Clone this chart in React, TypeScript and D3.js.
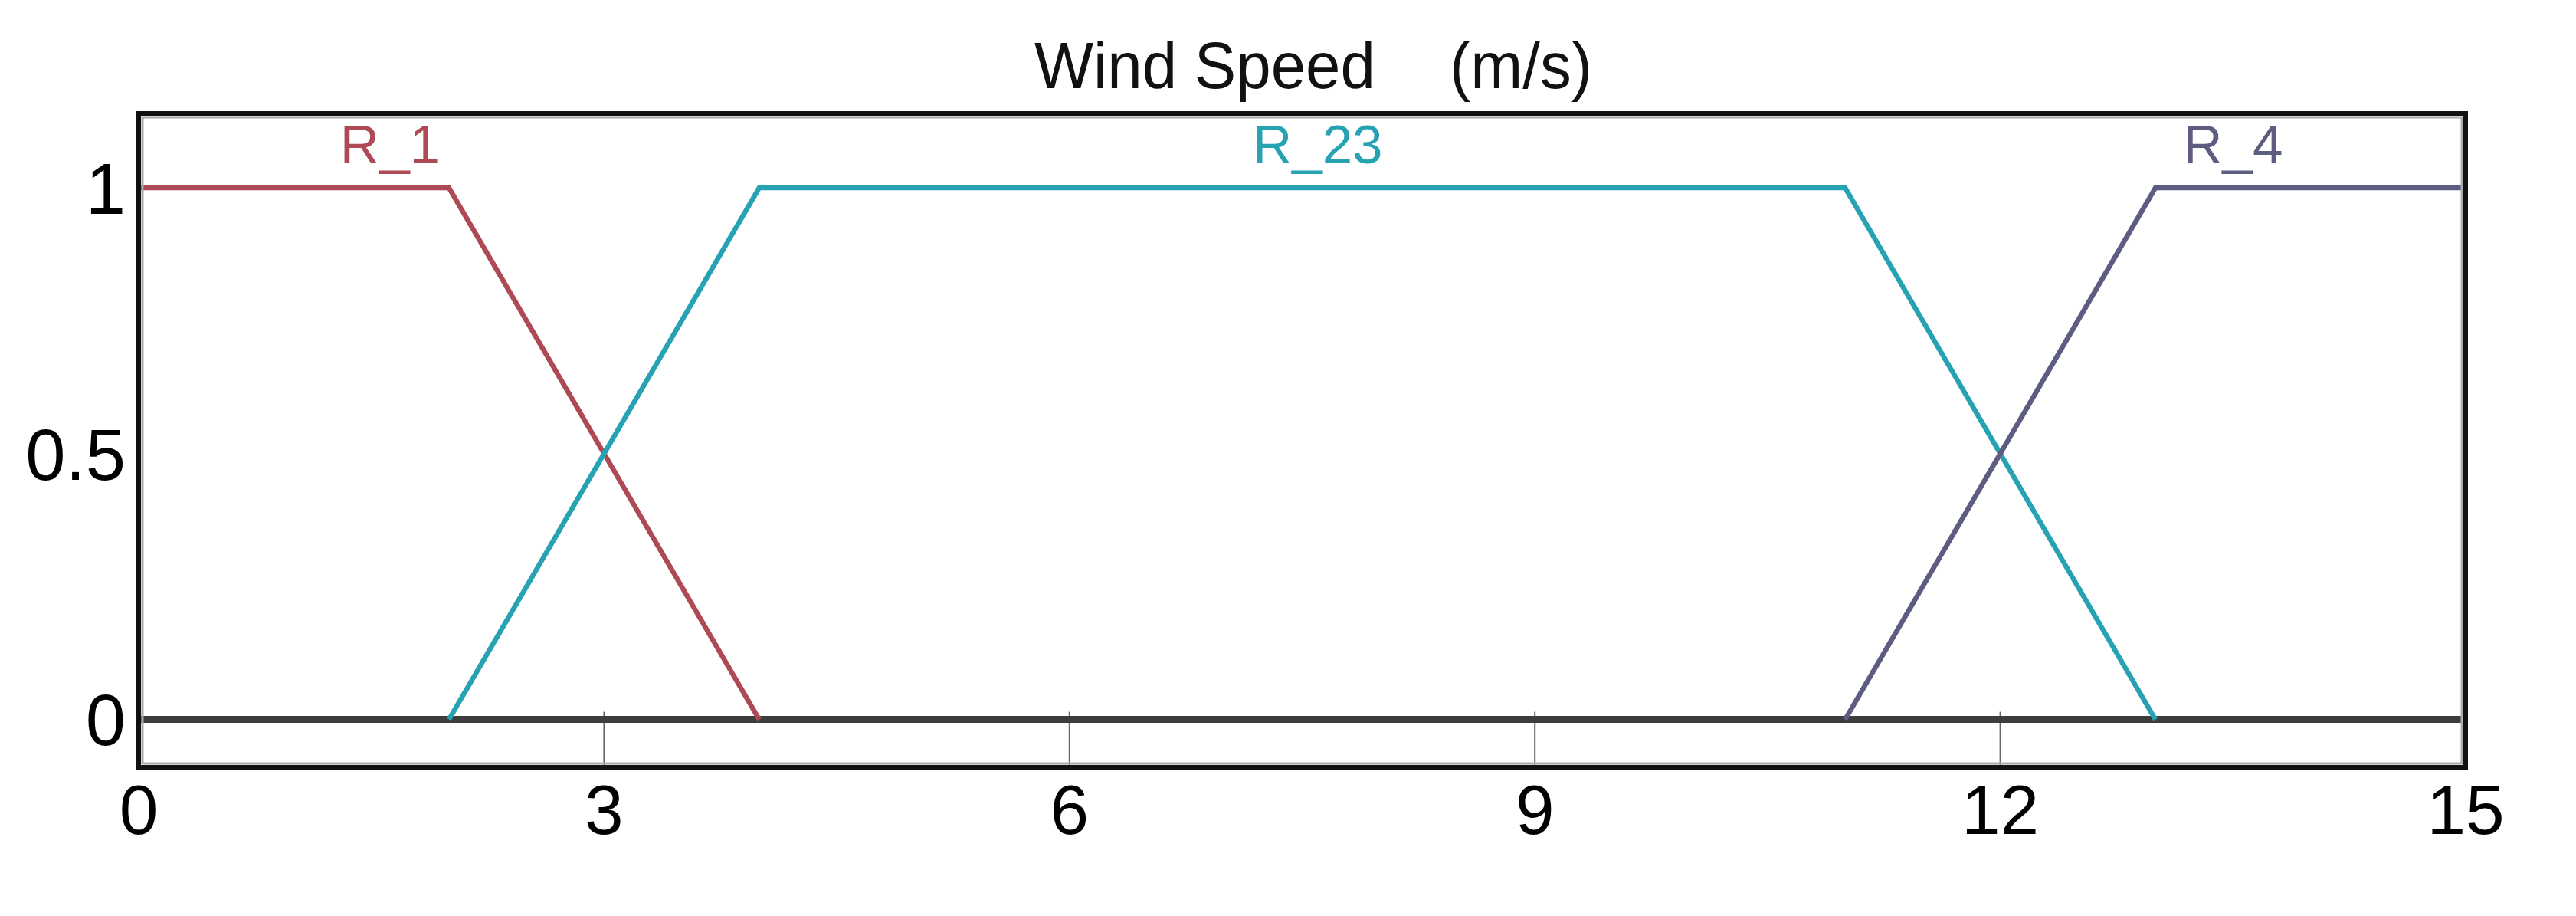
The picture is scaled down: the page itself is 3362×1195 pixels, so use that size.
import React from "react";
import * as d3 from "d3";

// membership functions for wind speed (m/s)
const xTicks = [0, 3, 6, 9, 12, 15];
const yTicks = [0, 0.5, 1];
const yTickLabels = ["0", "0.5", "1"];

const r1X = [0, 2, 4];
const r1Y = [1, 1, 0];
const r23X = [2, 4, 11, 13];
const r23Y = [0, 1, 1, 0];
const r4X = [11, 13, 15];
const r4Y = [0, 1, 1];

const seriesNames = ["R_1", "R_23", "R_4"];
const labelAt = [1.62, 7.6, 13.5];
const seriesColors = ["#ad4a55", "#26a2b3", "#5d5d82"];

const W = 3362;
const H = 1195;
const margin = { top: 148, right: 144, bottom: 194, left: 181 };

const App = () => {
  const x = d3
    .scaleLinear()
    .domain([0, 15])
    .range([margin.left, W - margin.right]);
  const y = d3
    .scaleLinear()
    .domain([-0.09, 1.14])
    .range([H - margin.bottom, margin.top]);

  const line = d3
    .line<[number, number]>()
    .x(d => x(d[0]))
    .y(d => y(d[1]));

  const series = [
    d3.zip(r1X, r1Y),
    d3.zip(r23X, r23Y),
    d3.zip(r4X, r4Y)
  ] as [number, number][][];

  const font = "'Liberation Sans', Arial, sans-serif";

  return (
    <svg width={W} height={H} style={{ display: "block", background: "#fff" }}>
      <style>{`body{margin:0;overflow:hidden}`}</style>

      {/* title */}
      <text
        x={1350}
        y={115}
        fontFamily={font}
        fontSize={86}
        fill="#111"
        transform="translate(1350 0) scale(0.95 1) translate(-1350 0)"
      >
        Wind Speed
      </text>
      <text
        x={1892}
        y={115}
        fontFamily={font}
        fontSize={86}
        fill="#111"
        transform="translate(1892 0) scale(0.95 1) translate(-1892 0)"
      >
        (m/s)
      </text>

      {/* x tick marks between zero line and frame */}
      {xTicks.slice(1, -1).map(t => (
        <line
          key={t}
          x1={x(t)}
          x2={x(t)}
          y1={y(0) - 10}
          y2={y(-0.09)}
          stroke="#666"
          strokeWidth={2}
        />
      ))}

      {/* zero line */}
      <line
        x1={x(0)}
        x2={x(15)}
        y1={y(0)}
        y2={y(0)}
        stroke="#3d3d3d"
        strokeWidth={9}
      />

      {/* series */}
      {series.map((s, i) => (
        <path
          key={seriesNames[i]}
          d={line(s) || ""}
          fill="none"
          stroke={seriesColors[i]}
          strokeWidth={6.5}
          strokeLinejoin="miter"
        />
      ))}

      {seriesNames.map((n, i) => (
        <text
          key={n}
          x={x(labelAt[i])}
          y={y(1) - 32}
          textAnchor="middle"
          fontFamily={font}
          fontSize={71}
          fill={seriesColors[i]}
        >
          {n}
        </text>
      ))}

      {/* frame, with the grey inner edge of the original */}
      <rect
        x={x(0) + 5}
        y={y(1.14) + 5}
        width={x(15) - x(0) - 10}
        height={y(-0.09) - y(1.14) - 10}
        fill="none"
        stroke="#aaa"
        strokeWidth={3}
      />
      <rect
        x={x(0)}
        y={y(1.14)}
        width={x(15) - x(0)}
        height={y(-0.09) - y(1.14)}
        fill="none"
        stroke="#111"
        strokeWidth={6}
      />

      {/* y tick labels */}
      {yTicks.map((t, i) => (
        <text
          key={t}
          x={164}
          y={y(t)}
          dy="0.36em"
          textAnchor="end"
          fontFamily={font}
          fontSize={94}
          fill="#000"
        >
          {yTickLabels[i]}
        </text>
      ))}

      {/* x tick labels */}
      {xTicks.map(t => (
        <text
          key={t}
          x={x(t)}
          y={1088}
          textAnchor="middle"
          fontFamily={font}
          fontSize={91}
          fill="#000"
        >
          {t}
        </text>
      ))}
    </svg>
  );
};

export default App;
